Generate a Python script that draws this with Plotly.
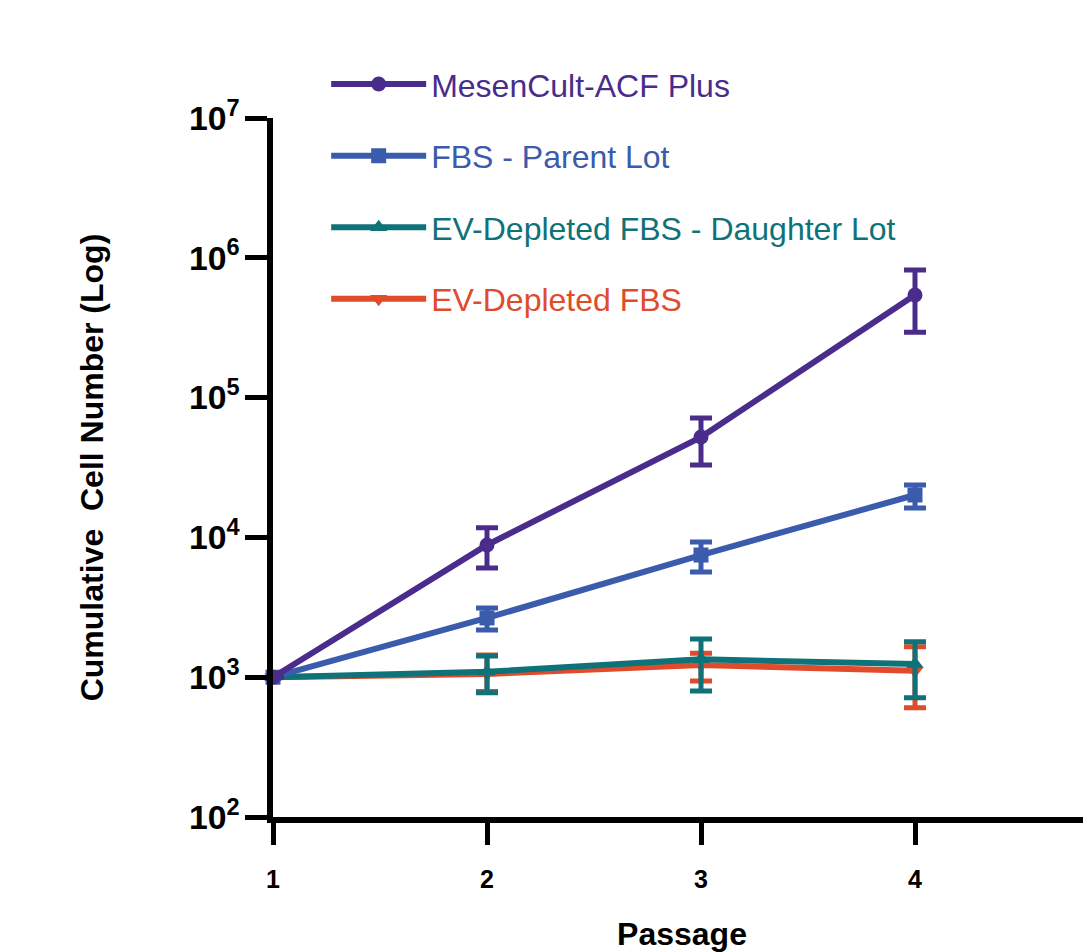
import plotly.graph_objects as go

passage = [1, 2, 3, 4]

names = ["MesenCult-ACF Plus", "FBS - Parent Lot",
         "EV-Depleted FBS - Daughter Lot", "EV-Depleted FBS"]
colors = ["#4A2C8C", "#3B5BAC", "#0F7278", "#E04B2B"]
symbols = ["circle", "square", "triangle-up", "triangle-down"]

mesencult = [1000, 8830, 52200, 542000]
mesencult_hi = [1000, 11700, 71400, 818000]
mesencult_lo = [1000, 6040, 33000, 294000]

fbs_parent = [1000, 2655, 7480, 20100]
fbs_parent_hi = [1000, 3126, 9270, 23700]
fbs_parent_lo = [1000, 2176, 5660, 16200]

ev_daughter = [1000, 1094, 1343, 1242]
ev_daughter_hi = [1000, 1420, 1876, 1795]
ev_daughter_lo = [1000, 774, 798, 713]

ev_depleted = [1000, 1055, 1222, 1112]
ev_depleted_hi = [1000, 1440, 1483, 1652]
ev_depleted_lo = [1000, 790, 940, 605]

series = [
    (mesencult, mesencult_hi, mesencult_lo),
    (fbs_parent, fbs_parent_hi, fbs_parent_lo),
    (ev_daughter, ev_daughter_hi, ev_daughter_lo),
    (ev_depleted, ev_depleted_hi, ev_depleted_lo),
]

fig = go.Figure()
# draw in reverse so MesenCult is on top; legend order via legendrank
for i in [3, 2, 1, 0]:
    y, hi, lo = series[i]
    fig.add_trace(go.Scatter(
        x=passage, y=y, mode="lines+markers",
        name=f'<span style="color:{colors[i]}">{names[i]}</span>',
        line=dict(color=colors[i], width=6),
        marker=dict(symbol=symbols[i], size=15, color=colors[i]),
        error_y=dict(type="data", symmetric=False,
                     array=[h - v for h, v in zip(hi, y)],
                     arrayminus=[v - l for v, l in zip(y, lo)],
                     color=colors[i], thickness=5, width=11),
        legendrank=i + 1, legendgroup=f"g{i}",
        cliponaxis=False,
    ))

fig.update_layout(
    width=1083, height=944,
    margin=dict(l=265, r=0, t=110, b=135, autoexpand=False),
    plot_bgcolor="white", paper_bgcolor="white",
    font=dict(family="Liberation Sans, Arial, sans-serif", color="black"),
    showlegend=True,
    legend=dict(x=0.065, y=1.0876, xanchor="left", yanchor="top",
                font=dict(size=32), tracegroupgap=27, itemwidth=95,
                bgcolor="rgba(0,0,0,0)", traceorder="grouped"),
    xaxis=dict(range=[1, 1 + 818 / 214], tickvals=[1, 2, 3, 4],
               showline=True, linecolor="black", linewidth=6,
               ticks="outside", ticklen=22, tickwidth=5, tickcolor="black",
               showgrid=False, zeroline=False, ticklabelstandoff=13,
               tickfont=dict(size=25, weight="bold"),
               title=dict(text="Passage", font=dict(size=32, weight="bold"),
                          standoff=35)),
    yaxis=dict(type="log", range=[2, 7], dtick=1, exponentformat="power",
               showline=True, linecolor="black", linewidth=6,
               ticks="outside", ticklen=22, tickwidth=5, tickcolor="black",
               showgrid=False, zeroline=False,
               tickfont=dict(size=27, weight="bold"),
               title=dict(text="Cumulative  Cell Number (Log)",
                          font=dict(size=32, weight="bold"), standoff=78)),
)

fig.write_html("out.html")
